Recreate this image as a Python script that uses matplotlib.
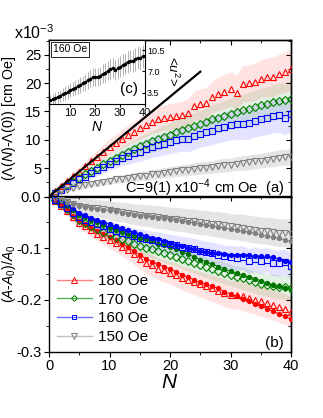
import numpy as np
import matplotlib
matplotlib.use("Agg")
import matplotlib.pyplot as plt
from matplotlib.ticker import MultipleLocator, FuncFormatter, NullFormatter

plt.rcParams['font.family'] = ['Liberation Sans', 'DejaVu Sans']
plt.rcParams['mathtext.fontset'] = 'custom'
plt.rcParams['mathtext.rm'] = 'Liberation Sans'
plt.rcParams['mathtext.it'] = 'Liberation Sans:italic'

# ---------------- data ----------------
N = list(range(1, 41))
fields = ['180 Oe', '170 Oe', '160 Oe', '150 Oe']

# panel (a): Lambda(N)-Lambda(0)  [x1e-3 cm Oe]
lam_180 = [1.0, 1.9, 2.7, 3.6, 4.4, 5.3, 6.2, 7.0, 7.9, 8.8, 9.5, 10.1, 10.8, 11.4, 12.0, 12.6, 13.2, 13.6, 13.9, 14.1,
           14.2, 14.4, 14.8, 16.0, 16.3, 16.5, 17.6, 18.1, 18.5, 19.0, 18.3, 19.9, 20.0, 20.2, 20.8, 21.0, 21.1, 21.6, 21.9, 22.4]
lam_170 = [0.7, 1.3, 2.0, 2.6, 3.3, 3.9, 4.5, 5.1, 5.7, 6.3, 6.8, 7.4, 7.9, 8.4, 8.9, 9.3, 9.7, 10.1, 10.5, 10.9,
           11.3, 11.7, 12.0, 12.4, 12.8, 13.2, 13.6, 13.9, 14.2, 14.6, 14.9, 15.2, 15.5, 15.8, 16.1, 16.3, 16.6, 16.8, 17.0, 17.2]
lam_160 = [0.6, 1.2, 1.8, 2.4, 3.0, 3.5, 4.1, 4.6, 5.2, 5.8, 6.3, 6.8, 7.2, 7.6, 7.9, 8.3, 8.7, 9.0, 9.3, 9.6,
           9.9, 10.2, 10.1, 10.6, 11.0, 11.3, 11.6, 12.0, 12.3, 12.6, 12.7, 12.8, 12.9, 13.3, 13.6, 13.8, 14.2, 14.3, 13.9, 14.5]
lam_150 = [0.5, 0.9, 1.2, 1.5, 1.8, 2.0, 2.2, 2.4, 2.6, 2.8, 3.0, 3.1, 3.3, 3.4, 3.6, 3.7, 3.9, 4.0, 4.2, 4.3,
           4.5, 4.6, 4.7, 4.9, 5.0, 5.1, 5.2, 5.4, 5.5, 5.6, 5.8, 5.9, 6.0, 6.2, 6.3, 6.5, 6.6, 6.8, 6.9, 7.0]
lam_err_180 = [0.4, 0.5, 0.6, 0.8, 0.9, 1.0, 1.1, 1.2, 1.3, 1.4, 1.5, 1.6, 1.7, 1.8, 1.9, 2.0, 2.1, 2.2, 2.2, 2.3,
               2.4, 2.4, 2.5, 2.6, 2.7, 2.7, 2.8, 2.9, 3.0, 3.0, 3.1, 3.2, 3.2, 3.3, 3.3, 3.4, 3.5, 3.5, 3.6, 3.6]
lam_err_170 = [0.3, 0.4, 0.5, 0.6, 0.7, 0.8, 0.9, 1.0, 1.1, 1.2, 1.3, 1.4, 1.5, 1.6, 1.7, 1.8, 1.9, 2.0, 2.0, 2.1,
               2.2, 2.2, 2.3, 2.4, 2.4, 2.5, 2.6, 2.6, 2.7, 2.7, 2.8, 2.8, 2.9, 2.9, 3.0, 3.0, 3.1, 3.1, 3.2, 3.2]
lam_err_160 = [0.3, 0.4, 0.5, 0.6, 0.7, 0.8, 0.9, 1.0, 1.1, 1.2, 1.3, 1.4, 1.5, 1.6, 1.7, 1.8, 1.8, 1.9, 2.0, 2.0,
               2.1, 2.2, 2.2, 2.3, 2.3, 2.4, 2.5, 2.5, 2.6, 2.6, 2.7, 2.7, 2.8, 2.8, 2.9, 2.9, 3.0, 3.0, 3.0, 3.1]
lam_err_150 = [0.3, 0.3, 0.4, 0.4, 0.5, 0.5, 0.5, 0.6, 0.6, 0.6, 0.7, 0.7, 0.7, 0.8, 0.8, 0.8, 0.9, 0.9, 0.9, 1.0,
               1.0, 1.0, 1.0, 1.1, 1.1, 1.1, 1.1, 1.2, 1.2, 1.2, 1.2, 1.3, 1.3, 1.3, 1.3, 1.3, 1.4, 1.4, 1.4, 1.4]
fit_N = [0, 25]
fit_C = 0.88  # slope, x1e-3 cm Oe per cycle

# panel (b): (A-A0)/A0, open symbols
rel_180 = [-0.008, -0.018, -0.028, -0.040, -0.052, -0.058, -0.065, -0.072, -0.078, -0.085, -0.090, -0.097, -0.104, -0.112, -0.120,
           -0.128, -0.133, -0.140, -0.143, -0.148, -0.152, -0.158, -0.162, -0.166, -0.170, -0.174, -0.178, -0.182, -0.186, -0.190,
           -0.191, -0.193, -0.197, -0.200, -0.203, -0.206, -0.210, -0.214, -0.218, -0.224]
rel_170 = [-0.007, -0.015, -0.024, -0.034, -0.045, -0.051, -0.057, -0.062, -0.068, -0.073, -0.078, -0.082, -0.086, -0.091, -0.095,
           -0.099, -0.102, -0.106, -0.110, -0.113, -0.117, -0.121, -0.125, -0.129, -0.133, -0.137, -0.141, -0.145, -0.148, -0.152,
           -0.155, -0.158, -0.162, -0.166, -0.169, -0.171, -0.173, -0.175, -0.176, -0.177]
rel_160 = [-0.006, -0.014, -0.022, -0.031, -0.040, -0.045, -0.050, -0.054, -0.058, -0.062, -0.066, -0.070, -0.073, -0.077, -0.080,
           -0.082, -0.085, -0.087, -0.090, -0.092, -0.094, -0.097, -0.099, -0.102, -0.105, -0.108, -0.110, -0.113, -0.116, -0.118,
           -0.119, -0.118, -0.125, -0.121, -0.125, -0.123, -0.128, -0.129, -0.127, -0.134]
rel_150 = [-0.003, -0.006, -0.010, -0.014, -0.018, -0.020, -0.022, -0.023, -0.025, -0.027, -0.029, -0.030, -0.032, -0.034, -0.036,
           -0.037, -0.038, -0.040, -0.041, -0.043, -0.044, -0.045, -0.047, -0.048, -0.050, -0.051, -0.053, -0.054, -0.056, -0.058,
           -0.059, -0.060, -0.062, -0.064, -0.066, -0.066, -0.068, -0.070, -0.070, -0.072]
# panel (b): filled symbols
fil_180 = [-0.007, -0.016, -0.026, -0.037, -0.048, -0.054, -0.060, -0.066, -0.073, -0.079, -0.085, -0.091, -0.098, -0.106, -0.113,
           -0.120, -0.126, -0.131, -0.136, -0.140, -0.146, -0.151, -0.156, -0.162, -0.166, -0.170, -0.174, -0.178, -0.184, -0.189,
           -0.193, -0.198, -0.203, -0.208, -0.212, -0.217, -0.222, -0.227, -0.232, -0.237]
fil_170 = [-0.005, -0.011, -0.018, -0.026, -0.035, -0.040, -0.045, -0.050, -0.055, -0.060, -0.064, -0.068, -0.072, -0.076, -0.080,
           -0.083, -0.087, -0.091, -0.094, -0.098, -0.102, -0.107, -0.112, -0.117, -0.122, -0.127, -0.131, -0.136, -0.140, -0.145,
           -0.148, -0.152, -0.155, -0.159, -0.163, -0.167, -0.171, -0.174, -0.177, -0.180]
fil_160 = [-0.005, -0.010, -0.017, -0.024, -0.032, -0.036, -0.041, -0.045, -0.049, -0.053, -0.057, -0.061, -0.065, -0.069, -0.072,
           -0.076, -0.080, -0.083, -0.087, -0.090, -0.093, -0.096, -0.099, -0.102, -0.105, -0.107, -0.109, -0.110, -0.112, -0.113,
           -0.113, -0.114, -0.114, -0.115, -0.115, -0.116, -0.118, -0.121, -0.124, -0.126]
fil_150 = [-0.003, -0.006, -0.010, -0.014, -0.018, -0.020, -0.022, -0.024, -0.026, -0.027, -0.029, -0.031, -0.033, -0.035, -0.037,
           -0.038, -0.039, -0.041, -0.042, -0.044, -0.046, -0.048, -0.050, -0.051, -0.053, -0.055, -0.057, -0.059, -0.061, -0.063,
           -0.065, -0.067, -0.069, -0.071, -0.074, -0.076, -0.079, -0.081, -0.084, -0.087]
rel_err_180 = [0.005, 0.007, 0.009, 0.010, 0.011, 0.012, 0.013, 0.014, 0.015, 0.016, 0.017, 0.018, 0.018, 0.019, 0.020, 0.020, 0.021, 0.021, 0.022, 0.022,
               0.023, 0.023, 0.024, 0.024, 0.025, 0.025, 0.026, 0.026, 0.027, 0.027, 0.027, 0.028, 0.028, 0.028, 0.029, 0.029, 0.029, 0.030, 0.030, 0.030]
rel_err_170 = [0.004, 0.005, 0.007, 0.008, 0.009, 0.010, 0.011, 0.012, 0.012, 0.013, 0.014, 0.014, 0.015, 0.015, 0.016, 0.016, 0.017, 0.017, 0.018, 0.018,
               0.018, 0.019, 0.019, 0.019, 0.020, 0.020, 0.020, 0.021, 0.021, 0.021, 0.021, 0.022, 0.022, 0.022, 0.022, 0.022, 0.023, 0.023, 0.023, 0.023]
rel_err_160 = [0.004, 0.006, 0.007, 0.008, 0.010, 0.011, 0.012, 0.012, 0.013, 0.014, 0.015, 0.015, 0.016, 0.016, 0.017, 0.017, 0.018, 0.018, 0.019, 0.019,
               0.019, 0.020, 0.020, 0.021, 0.021, 0.021, 0.022, 0.022, 0.022, 0.023, 0.023, 0.023, 0.024, 0.024, 0.024, 0.024, 0.025, 0.025, 0.025, 0.025]
rel_err_150 = [0.010, 0.012, 0.013, 0.014, 0.015, 0.016, 0.017, 0.017, 0.018, 0.018, 0.019, 0.019, 0.020, 0.020, 0.021, 0.021, 0.021, 0.022, 0.022, 0.022,
               0.023, 0.023, 0.023, 0.024, 0.024, 0.024, 0.024, 0.025, 0.025, 0.025, 0.025, 0.026, 0.026, 0.026, 0.026, 0.026, 0.027, 0.027, 0.027, 0.027]

# inset (c): <u^2> at 160 Oe
ins_N = list(range(2, 41))
ins_u2 = [2.2, 2.4, 2.6, 2.8, 3.0, 3.2, 3.4, 3.6, 3.9, 4.1, 4.3, 4.5, 4.8, 5.0, 5.2, 5.5, 5.8, 6.0, 6.1, 6.1,
          6.3, 6.6, 6.8, 7.1, 7.4, 7.6, 7.2, 7.5, 7.8, 8.0, 8.3, 8.6, 8.8, 8.7, 9.0, 9.3, 9.2, 9.5, 9.6]
ins_err = [0.9, 0.9, 1.0, 1.0, 1.0, 1.1, 1.1, 1.1, 1.2, 1.2, 1.2, 1.3, 1.3, 1.3, 1.4, 1.4, 1.4, 1.5, 1.5, 1.5,
           1.5, 1.6, 1.6, 1.6, 1.6, 1.7, 1.7, 1.7, 1.7, 1.8, 1.8, 1.8, 1.8, 1.8, 1.9, 1.9, 1.9, 1.9, 1.9]

# ---------------- styling ----------------
cols = ['#ff0000', '#008000', '#0000ff', '#808080']
light = ['#ff8080', '#60b060', '#7070ff', '#c0c0c0']
fill_cols = ['#ff0000', '#007000', '#0000ff', '#808080']
band_alpha = [0.11, 0.11, 0.11, 0.2]
markers = ['^', 'D', 's', 'v']
msizes = [4.6, 3.6, 4.0, 4.6]

lam = [lam_180, lam_170, lam_160, lam_150]
lam_err = [lam_err_180, lam_err_170, lam_err_160, lam_err_150]
rel = [rel_180, rel_170, rel_160, rel_150]
fil = [fil_180, fil_170, fil_160, fil_150]
rel_err = [rel_err_180, rel_err_170, rel_err_160, rel_err_150]

W, H = 323, 418
fig = plt.figure(figsize=(W / 100, H / 100), dpi=100)
L, R = 49 / W, 291 / W
ax_a = fig.add_axes([L, 1 - 196.5 / H, R - L, (196.5 - 40) / H])
ax_b = fig.add_axes([L, 1 - 351.5 / H, R - L, (351.5 - 196.5) / H])

Narr = np.array(N)
for i in range(4):
    v = np.array(lam[i]); e = np.array(lam_err[i])
    ax_a.fill_between(Narr, v - e, v + e, color=cols[i], alpha=band_alpha[i], lw=0, zorder=1)
for i in range(4):
    ax_a.plot(N, lam[i], ls='none', marker=markers[i], ms=msizes[i], mfc='none', mec=cols[i], mew=0.8, zorder=3)
fN = np.array(fit_N)
ax_a.plot(fN, fit_C * fN, color='black', lw=1.6, zorder=4)

for i in range(4):
    v = np.array(rel[i]); e = np.array(rel_err[i])
    ax_b.fill_between(Narr, v - e, v + e, color=cols[i], alpha=band_alpha[i], lw=0, zorder=1)
for i in range(4):
    ax_b.plot(N, fil[i], ls='-', lw=0.7, marker='o', ms=2.8, color=fill_cols[i], mec=fill_cols[i], zorder=3)
    ax_b.plot(N, rel[i], ls='none', marker=markers[i], ms=msizes[i], mfc='none', mec=cols[i], mew=0.8, zorder=4)

# legend proxies
handles = []
for i in range(4):
    h, = ax_b.plot([], [], color=light[i], lw=1.0, marker=markers[i], ms=msizes[i] - 0.6,
                   mfc='none', mec=cols[i], mew=0.7)
    handles.append(h)
ax_b.legend(handles, fields, loc='lower left', bbox_to_anchor=(0.0, 0.0), frameon=False,
            fontsize=11, handlelength=2.3, handletextpad=0.4, labelspacing=0.3, borderaxespad=0.3,
            borderpad=0.2)

# axes limits and ticks
for ax in (ax_a, ax_b):
    ax.set_xlim(0, 40)
    ax.xaxis.set_major_locator(MultipleLocator(10))
    ax.xaxis.set_minor_locator(MultipleLocator(5))
    for s in ax.spines.values():
        s.set_linewidth(1.0)
ax_a.set_ylim(0, 27.6)
ax_a.yaxis.set_major_locator(MultipleLocator(5))
ax_a.yaxis.set_minor_locator(MultipleLocator(2.5))
ax_a.yaxis.set_major_formatter(FuncFormatter(lambda v, p: '0.0' if abs(v) < 1e-9 else '%d' % v))
ax_b.set_ylim(-0.3, 0)
ax_b.yaxis.set_major_locator(MultipleLocator(0.1))
ax_b.yaxis.set_minor_locator(MultipleLocator(0.05))
ax_b.yaxis.set_major_formatter(FuncFormatter(lambda v, p: '' if abs(v) < 1e-9 else ('%.1f' % v)))

for ax in (ax_a, ax_b):
    ax.tick_params(axis='both', which='both', labelsize=10.5, pad=2, direction='out', right=False, top=False)
    ax.tick_params(axis='both', which='major', length=3.5)
    ax.tick_params(axis='both', which='minor', length=2)
    # inward ticks on the right side
    sy = ax.secondary_yaxis('right')
    sy.yaxis.set_major_locator(ax.yaxis.get_major_locator())
    sy.yaxis.set_minor_locator(ax.yaxis.get_minor_locator())
    sy.yaxis.set_major_formatter(NullFormatter())
    sy.tick_params(which='both', direction='in')
    sy.tick_params(which='major', length=3.5)
    sy.tick_params(which='minor', length=2)
    sy.spines['right'].set_linewidth(1.0)
ax_a.tick_params(axis='x', which='both', bottom=False, labelbottom=False)
for ax in (ax_a, ax_b):
    sx = ax.secondary_xaxis('top')
    sx.xaxis.set_major_locator(MultipleLocator(10))
    sx.xaxis.set_minor_locator(MultipleLocator(5))
    sx.xaxis.set_major_formatter(NullFormatter())
    sx.tick_params(which='both', direction='in')
    sx.tick_params(which='major', length=3.5)
    sx.tick_params(which='minor', length=2)
    sx.spines['top'].set_linewidth(1.0)

ax_a.set_ylabel('(Λ($N$)-Λ($0$)) [cm Oe]', fontsize=10.3, labelpad=3)
ax_b.set_ylabel('($A$-$A_0$)/$A_0$', fontsize=10, labelpad=2)
ax_b.set_xlabel('$N$', fontsize=15, labelpad=0)
ax_a.yaxis.set_label_coords(-0.13, 0.5)
ax_b.yaxis.set_label_coords(-0.128, 0.5)

fig.text(14 / W, 1 - 39 / H, 'x10$^{-3}$', fontsize=11.5, ha='left', va='baseline')
ax_a.text(38.8, 1.5, 'C=9(1) x10$^{-4}$ cm Oe  (a)', fontsize=10.5, ha='right', va='center')
ax_b.text(38.8, -0.283, '(b)', fontsize=11, ha='right', va='center')

# inset (c)
ax_c = fig.add_axes([L, 1 - 104 / H, (145 - 49) / W, (104 - 40) / H], zorder=5)
ax_c.set_facecolor('white')
ax_c.errorbar(ins_N, ins_u2, yerr=ins_err, fmt='none', ecolor='#b0b0b0', elinewidth=0.7, capsize=0, zorder=1)
ax_c.plot(ins_N, ins_u2, color='black', lw=0.6, marker='o', ms=1.5, zorder=2)
ax_c.set_xlim(1.6, 40)
ax_c.set_ylim(1.6, 12.2)
ax_c.xaxis.set_major_locator(MultipleLocator(10))
ax_c.set_yticks([3.5, 7.0, 10.5])
ax_c.yaxis.set_major_formatter(FuncFormatter(lambda v, p: '%.1f' % v))
ax_c.yaxis.tick_right()
ax_c.tick_params(axis='y', which='both', direction='in', length=2, labelsize=6.5, pad=1.5, left=False, right=True)
ax_c.tick_params(axis='x', which='both', direction='out', length=2, labelsize=8, pad=1)
ax_c.set_xlabel('$N$', fontsize=10, labelpad=1)
for s in ax_c.spines.values():
    s.set_linewidth(0.8)
ax_c.text(1.285, 0.52, '<$u^2$>', transform=ax_c.transAxes, rotation=270, fontsize=9.5,
          ha='center', va='center')
ax_c.text(0.04, 0.93, '160 Oe', transform=ax_c.transAxes, fontsize=7.5, ha='left', va='top',
          bbox=dict(boxstyle='square,pad=0.2', fc='white', ec='black', lw=0.6))
ax_c.text(0.93, 0.12, '(c)', transform=ax_c.transAxes, fontsize=11, ha='right', va='bottom')

fig.savefig('out.png', dpi=100)
